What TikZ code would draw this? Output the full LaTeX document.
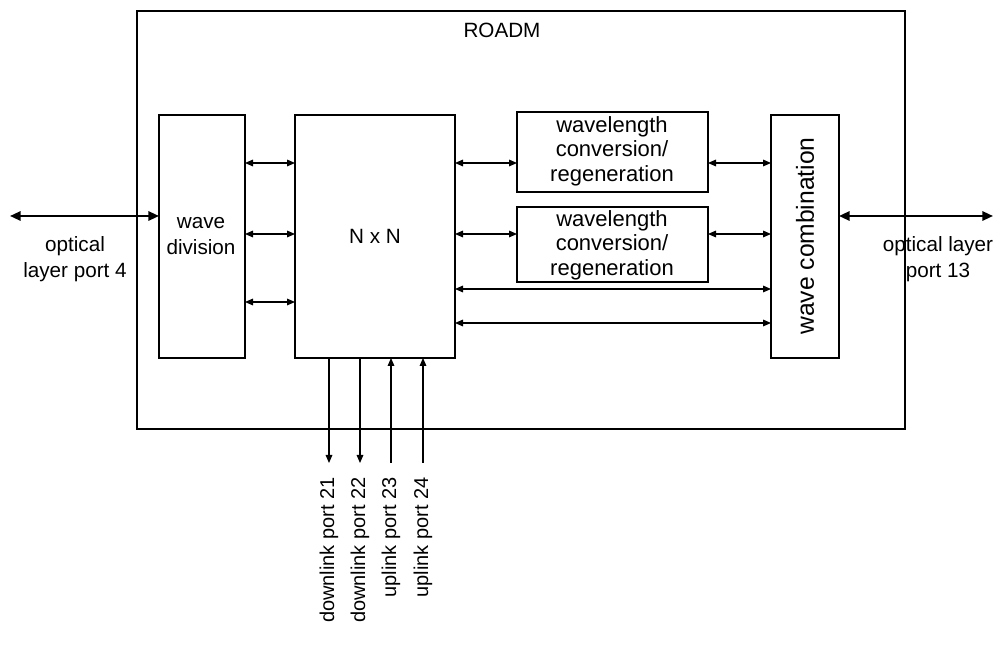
\documentclass[tikz,border=0pt]{standalone}
\usepackage{fontspec}
\setmainfont{Liberation Sans}
\usetikzlibrary{arrows.meta}
\begin{document}
\begin{tikzpicture}[x=0.75pt,y=-0.75pt,
  box/.style={draw,line width=1pt,inner sep=0pt},
  lbl/.style={font=\fontsize{15.5}{19.5}\selectfont,align=center,inner sep=0pt},
  wcrlbl/.style={font=\fontsize{16.5}{18.5}\selectfont,align=center,inner sep=0pt},
  biglbl/.style={font=\fontsize{18.5}{22}\selectfont,align=center,inner sep=0pt},
  portlbl/.style={font=\fontsize{15}{18}\selectfont,inner sep=0pt,rotate=90,anchor=east},
  link/.style={line width=0.8pt,{Triangle[length=6pt,width=5pt]}-{Triangle[length=6pt,width=5pt]}},
  ext/.style={line width=1.6pt,{Triangle[length=8pt,width=7pt]}-{Triangle[length=8pt,width=7pt]}},
  dn/.style={line width=0.8pt,-{Triangle[length=6pt,width=5pt]}}]
\useasboundingbox (0,0) rectangle (1001,645);
% outer
\draw[box] (137,11) rectangle (905,429);
\node[lbl] (roadm) at (502,30) {ROADM};
% blocks
\draw[box] (159,115) rectangle (245,358);
\node[lbl] (wd) at (201,236) {wave\\division};
\draw[box] (295,115) rectangle (455,358);
\node[lbl] (nxn) at (375,236) {N x N};
\draw[box] (517,112) rectangle (708,192);
\node[wcrlbl] (wc1) at (612,151) {wavelength\\conversion/\\regeneration};
\draw[box] (517,207) rectangle (708,282);
\node[wcrlbl] (wc2) at (612,245) {wavelength\\conversion/\\regeneration};
\draw[box] (771,115) rectangle (839,358);
\node[biglbl,rotate=90] (wcomb) at (805,236) {wave combination};
% named coordinates
\foreach \y/\n in {163/a,234/b,302/c} {
  \coordinate (wd\n) at (245,\y);
  \coordinate (nl\n) at (295,\y);
}
\coordinate (nr1) at (455,163); \coordinate (w1l) at (517,163);
\coordinate (w1r) at (708,163); \coordinate (cl1) at (771,163);
\coordinate (nr2) at (455,234); \coordinate (w2l) at (517,234);
\coordinate (w2r) at (708,234); \coordinate (cl2) at (771,234);
\coordinate (nr3) at (455,289); \coordinate (cl3) at (771,289);
\coordinate (nr4) at (455,323); \coordinate (cl4) at (771,323);
\coordinate (oL) at (10,216); \coordinate (wdL) at (159,216);
\coordinate (cR) at (839,216); \coordinate (oR) at (993,216);
% links
\draw[link] (wda) -- (nla);
\draw[link] (wdb) -- (nlb);
\draw[link] (wdc) -- (nlc);
\draw[link] (nr1) -- (w1l);
\draw[link] (w1r) -- (cl1);
\draw[link] (nr2) -- (w2l);
\draw[link] (w2r) -- (cl2);
\draw[link] (nr3) -- (cl3);
\draw[link] (nr4) -- (cl4);
\draw[ext] (oL) -- (wdL);
\draw[ext] (cR) -- (oR);
\node[lbl] (ol4) at (75,259) {optical\\layer port 4};
\node[lbl] (ol13) at (938,259) {optical layer\\port 13};
% ports
\foreach \x/\n in {329/p21,360/p22,391/p23,423/p24} {
  \coordinate (\n t) at (\x,358);
  \coordinate (\n b) at (\x,463);
}
\draw[dn] (p21t) -- (p21b);
\draw[dn] (p22t) -- (p22b);
\draw[dn] (p23b) -- (p23t);
\draw[dn] (p24b) -- (p24t);
\node[portlbl] (l21) at (329,477) {downlink port 21};
\node[portlbl] (l22) at (360,477) {downlink port 22};
\node[portlbl] (l23) at (391,477) {uplink port 23};
\node[portlbl] (l24) at (423,477) {uplink port 24};
\end{tikzpicture}
\end{document}
